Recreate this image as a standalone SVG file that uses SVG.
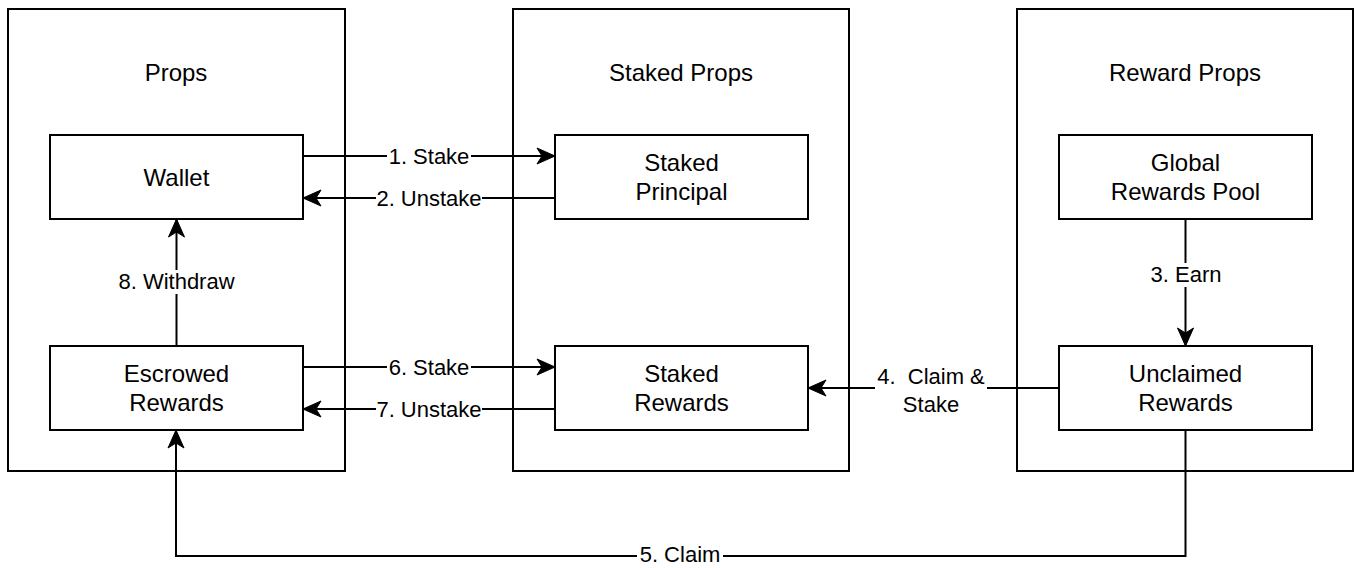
<svg xmlns="http://www.w3.org/2000/svg" width="1354" height="568" viewBox="0 0 1354 568">
<style>
.c{fill:#fff;stroke:#000;stroke-width:2}
.n{fill:#fff;stroke:#000;stroke-width:2}
.t{font-family:"Liberation Sans",Arial,Helvetica,sans-serif;font-size:24px;fill:#000;text-anchor:middle}
.e{fill:none;stroke:#000;stroke-width:2}
.l{font-family:"Liberation Sans",Arial,Helvetica,sans-serif;font-size:22px;fill:#000;text-anchor:middle;white-space:pre}
.bg{fill:#fff;stroke:none}
</style>
<defs>
<marker id="a" markerUnits="userSpaceOnUse" markerWidth="22" markerHeight="20" viewBox="-20 -10 22 20" refX="0" refY="0" orient="auto">
<path d="M0,0 L-18,-8 L-13,0 L-18,8 Z" fill="#000" stroke="#000" stroke-width="1"/>
</marker>
</defs>
<g id="container-props"><rect class="c" x="8" y="9" width="337" height="462"/><text class="t" x="176" y="81">Props</text></g>
<g id="container-staked-props"><rect class="c" x="513" y="9" width="336" height="462"/><text class="t" x="681" y="81">Staked Props</text></g>
<g id="container-reward-props"><rect class="c" x="1017" y="9" width="336" height="462"/><text class="t" x="1185" y="81">Reward Props</text></g>
<g id="wallet"><rect class="n" x="50" y="135" width="253" height="84"/><text class="t" x="176.5" y="186">Wallet</text></g>
<g id="escrowed-rewards"><rect class="n" x="50" y="346" width="253" height="84"/><text class="t" x="176.5" y="382">Escrowed</text><text class="t" x="176.5" y="411">Rewards</text></g>
<g id="staked-principal"><rect class="n" x="555" y="135" width="253" height="84"/><text class="t" x="681.5" y="171">Staked</text><text class="t" x="681.5" y="200">Principal</text></g>
<g id="staked-rewards"><rect class="n" x="555" y="346" width="253" height="84"/><text class="t" x="681.5" y="382">Staked</text><text class="t" x="681.5" y="411">Rewards</text></g>
<g id="global-rewards-pool"><rect class="n" x="1059" y="135" width="253" height="84"/><text class="t" x="1185.5" y="171">Global</text><text class="t" x="1185.5" y="200">Rewards Pool</text></g>
<g id="unclaimed-rewards"><rect class="n" x="1059" y="346" width="253" height="84"/><text class="t" x="1185.5" y="382">Unclaimed</text><text class="t" x="1185.5" y="411">Rewards</text></g>
<g id="connectors">
<path class="e" d="M303,156 H555" marker-end="url(#a)"/>
<rect class="bg" x="387" y="146" width="84" height="21"/><text class="l" x="429" y="164">1. Stake</text>
<path class="e" d="M555,198 H303" marker-end="url(#a)"/>
<rect class="bg" x="376" y="188" width="106" height="21"/><text class="l" x="429" y="206">2. Unstake</text>
<path class="e" d="M1185.5,219 V346" marker-end="url(#a)"/>
<rect class="bg" x="1155" y="263" width="62" height="24"/><text class="l" x="1186" y="282">3. Earn</text>
<path class="e" d="M1059,388 H808" marker-end="url(#a)"/>
<rect class="bg" x="875" y="366" width="112" height="50"/><text class="l" x="931" y="384">4.  Claim &amp;</text><text class="l" x="931" y="412">Stake</text>
<path class="e" d="M1185.5,430 V556 H176 V430" marker-end="url(#a)"/>
<rect class="bg" x="637" y="544" width="86" height="22"/><text class="l" x="680" y="562">5. Claim</text>
<path class="e" d="M303,367 H555" marker-end="url(#a)"/>
<rect class="bg" x="387" y="357" width="84" height="21"/><text class="l" x="429" y="375">6. Stake</text>
<path class="e" d="M555,409 H303" marker-end="url(#a)"/>
<rect class="bg" x="376" y="399" width="106" height="21"/><text class="l" x="429" y="417">7. Unstake</text>
<path class="e" d="M176.5,346 V219" marker-end="url(#a)"/>
<rect class="bg" x="118" y="270" width="117" height="24"/><text class="l" x="176.5" y="289">8. Withdraw</text>
</g>
</svg>
